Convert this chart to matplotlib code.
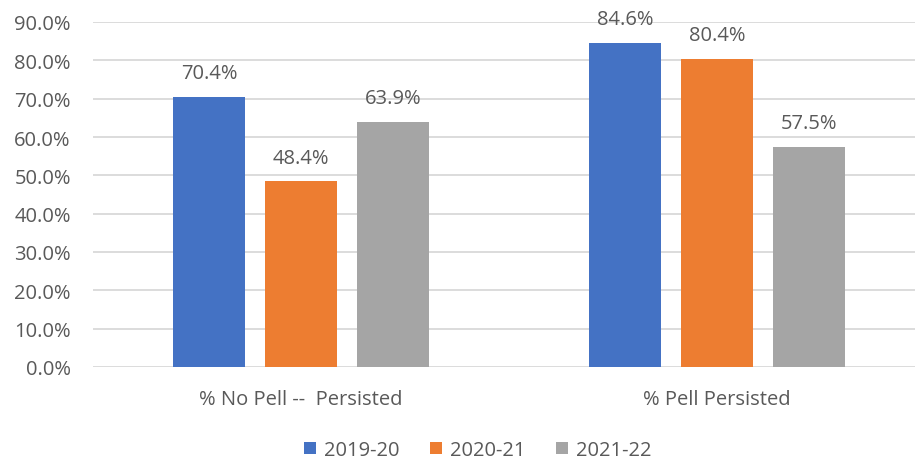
import numpy as np
import matplotlib.pyplot as plt

# Data
categories = ['% No Pell --  Persisted', '% Pell Persisted']
series     = ['2019-20', '2020-21', '2021-22']
values     = [[70.4, 84.6],
              [48.4, 80.4],
              [63.9, 57.5]]
colors     = ['#4472C4', '#ED7D31', '#A5A5A5']
yticks     = np.arange(0, 100, 10)

plt.rcParams['font.family'] = ['Open Sans', 'DejaVu Sans']
text_color = '#595959'
fs = 14.5

fig = plt.figure(figsize=(9.15, 4.64), dpi=100)
ax = fig.add_axes([93/915, 96/464, 832/915, 345/464])

x = np.arange(len(categories))
width = 72/416
step = 92/416

for i, (name, vals) in enumerate(zip(series, values)):
    pos = x + (i - 1)*step
    bars = ax.bar(pos, vals, width, color=colors[i], label=name, zorder=3)
    for b, v in zip(bars, vals):
        ax.annotate(f'{v:.1f}%', (b.get_x() + b.get_width()/2, v),
                    xytext=(0, 10), textcoords='offset points',
                    ha='center', va='bottom', fontsize=fs, color=text_color)

ax.set_xlim(-0.5, 1.5)
ax.set_ylim(0, 90)
ax.set_yticks(yticks)
ax.set_yticklabels([f'{t:.1f}%' for t in yticks])
ax.set_xticks(x)
ax.set_xticklabels(categories)
ax.tick_params(axis='both', length=0, labelsize=fs, labelcolor=text_color)
ax.tick_params(axis='y', pad=16)
ax.tick_params(axis='x', pad=16)
ax.grid(axis='y', color='#D9D9D9', linewidth=1.3, zorder=0)
for s in ax.spines.values():
    s.set_visible(False)

fig.legend(loc='center', bbox_to_anchor=(478/915, 1 - 451/464), ncol=3,
           frameon=False, fontsize=fs, handlelength=0.6, handleheight=0.6,
           handletextpad=0.4, columnspacing=1.5, labelcolor=text_color)

fig.savefig('out.png', dpi=100)
